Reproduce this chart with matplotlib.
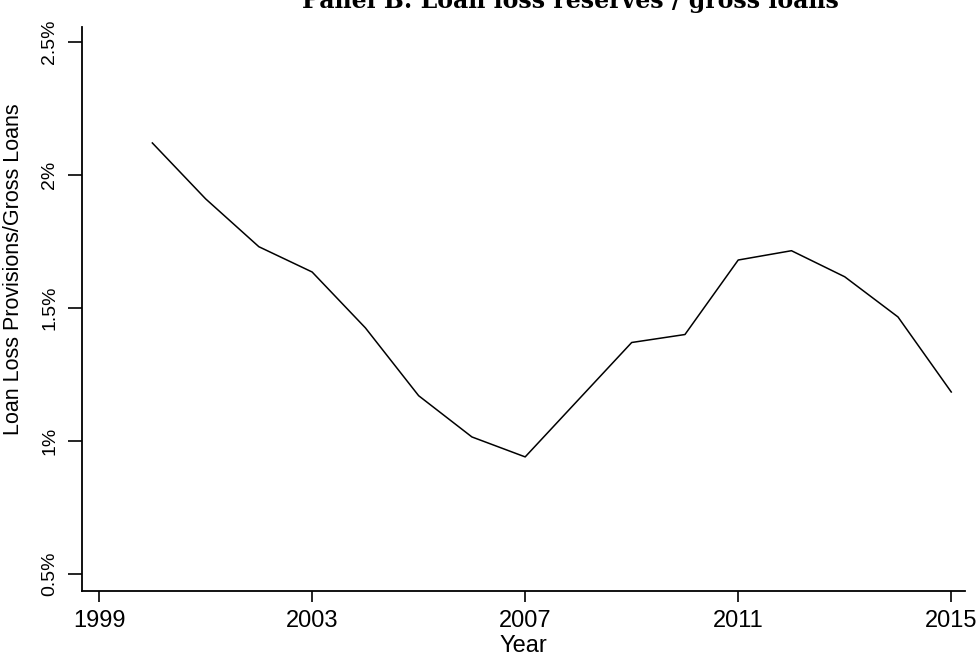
import matplotlib.pyplot as plt
import matplotlib.ticker as tck

# loan loss reserves as % of gross loans, by year
years = [2000, 2001, 2002, 2003, 2004, 2005, 2006, 2007,
         2008, 2009, 2010, 2011, 2012, 2013, 2014, 2015]
ratio = [2.12, 1.91, 1.73, 1.635, 1.425, 1.17, 1.015, 0.94,
         1.155, 1.37, 1.40, 1.68, 1.715, 1.617, 1.466, 1.184]
xticks = [1999, 2003, 2007, 2011, 2015]
yticks = [0.5, 1.0, 1.5, 2.0, 2.5]

plt.rcParams['font.family'] = ['Liberation Sans', 'DejaVu Sans']

fig = plt.figure(figsize=(9.79, 6.56), dpi=100)
ax1 = fig.add_axes([0.0838, 0.0991, 0.902, 0.8598])

ax1.plot(years, ratio, color='black', linewidth=1.1)

ax1.set_xlim(1998.68, 2015.26)
ax1.set_ylim(0.436, 2.556)
ax1.set_xticks(xticks)
ax1.set_yticks(yticks)
ax1.yaxis.set_major_formatter(tck.FuncFormatter(lambda v, p: ('%g' % v) + '%'))

for s in ['top', 'right']:
   ax1.spines[s].set_visible(False)
for s in ['left', 'bottom']:
   ax1.spines[s].set_linewidth(1.3)

ax1.tick_params(axis='x', direction='out', length=8, width=1.2, labelsize=17, pad=6)
ax1.tick_params(axis='y', direction='out', length=10, width=1.2, labelsize=14, pad=7)
for lbl in ax1.get_yticklabels():
   lbl.set_rotation(90)
   lbl.set_va('center')

ax1.set_xlabel('Year', fontsize=17)
ax1.xaxis.set_label_coords(0.5, -0.078)
ax1.set_ylabel('Loan Loss Provisions/Gross Loans', fontsize=15.5)
ax1.yaxis.set_label_coords(-0.066, 0.57)

fig.text(570/979, 1 - 8/656, 'Panel B: Loan loss reserves / gross loans',
         ha='center', va='baseline', fontsize=17, fontweight='bold',
         family=['DejaVu Serif'])

plt.savefig('out.png', dpi=100)
